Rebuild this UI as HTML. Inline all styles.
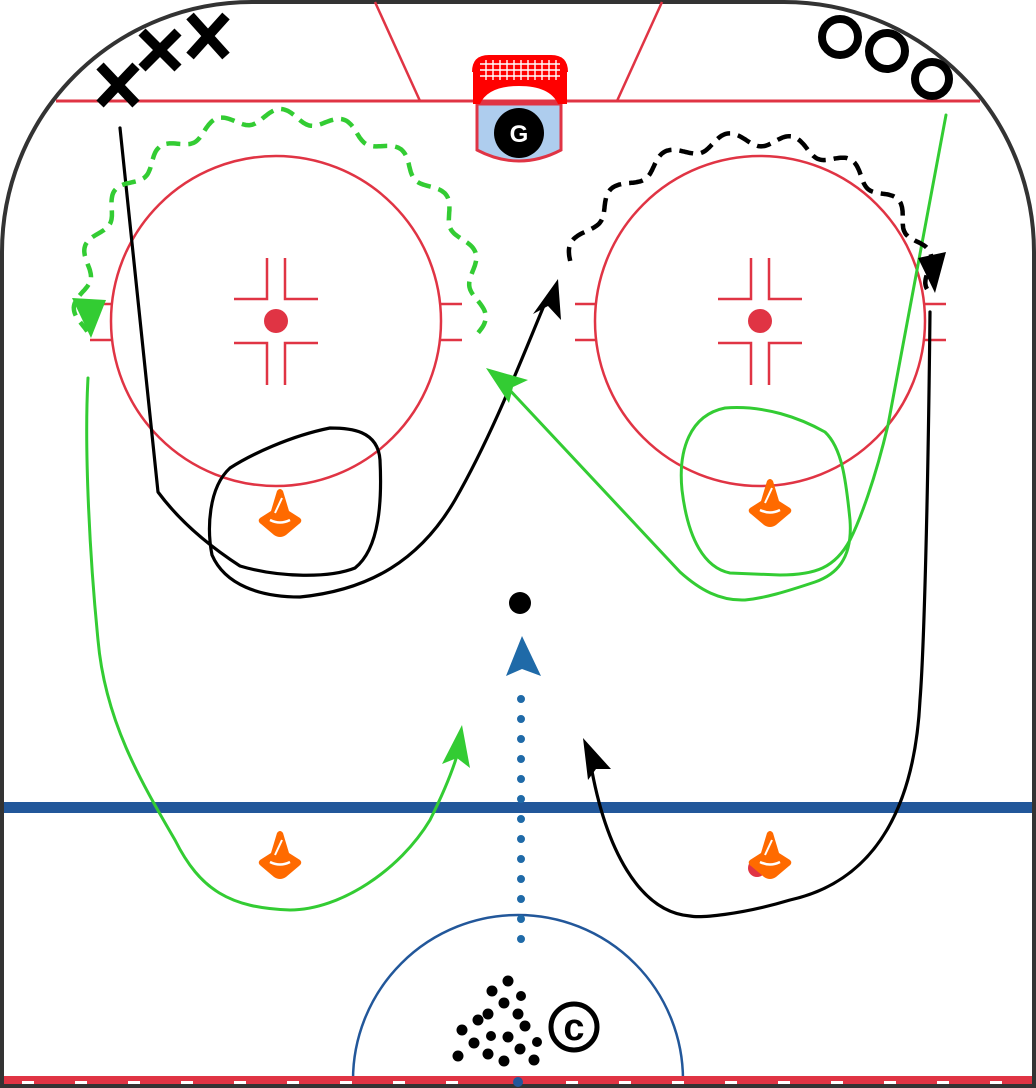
<!DOCTYPE html>
<html><head><meta charset="utf-8"><style>
html,body{margin:0;padding:0;background:#fff}
svg{display:block}
</style></head><body>
<svg id="s" width="1036" height="1088" viewBox="0 0 1036 1088" xmlns="http://www.w3.org/2000/svg">
<rect width="1036" height="1088" fill="#fff"/>
<path d="M2,1088 L2,252 A250,250 0 0 1 252,2 L784,2 A250,250 0 0 1 1034,252 L1034,1088" fill="none" stroke="#333" stroke-width="4"/>
<rect x="0" y="1084" width="1036" height="4" fill="#333"/>
<line x1="56" y1="101" x2="980" y2="101" stroke="#e03444" stroke-width="3"/>
<line x1="375" y1="2" x2="420" y2="101" stroke="#e03444" stroke-width="2.5"/>
<line x1="662" y1="2" x2="617" y2="101" stroke="#e03444" stroke-width="2.5"/>
<path d="M477,104 L477,150 Q519,172 561,150 L561,104 Z" fill="#aecdee" stroke="#e03444" stroke-width="3"/>
<path d="M473,104 L473,72 Q473,56 489,56 L551,56 Q567,56 567,72 L567,104 L558,104 Q550,86 519,86 Q488,86 480,104 Z" fill="#ff0000"/>
<g stroke="#fff" stroke-width="1.6">
<line x1="480" y1="64" x2="560" y2="64"/><line x1="480" y1="70" x2="560" y2="70"/><line x1="480" y1="76" x2="560" y2="76"/>
</g>
<g stroke="#fff" stroke-width="1.4">
<line x1="486" y1="60" x2="486" y2="80"/><line x1="493" y1="60" x2="493" y2="80"/><line x1="500" y1="60" x2="500" y2="80"/><line x1="507" y1="60" x2="507" y2="80"/><line x1="514" y1="60" x2="514" y2="80"/><line x1="521" y1="60" x2="521" y2="80"/><line x1="528" y1="60" x2="528" y2="80"/><line x1="535" y1="60" x2="535" y2="80"/><line x1="542" y1="60" x2="542" y2="80"/><line x1="549" y1="60" x2="549" y2="80"/><line x1="556" y1="60" x2="556" y2="80"/>
</g>
<path d="M473,72 Q473,56 489,56 L551,56 Q567,56 567,72" fill="none" stroke="#ff0000" stroke-width="2"/>
<circle cx="519" cy="133" r="25" fill="#000"/>
<text x="519" y="142" text-anchor="middle" font-family="Liberation Sans, sans-serif" font-weight="bold" font-size="24" fill="#fff">G</text>
<g fill="none" stroke="#e03444" stroke-width="2.5">
<circle cx="276" cy="321" r="165"/>
<circle cx="760" cy="321" r="165"/>
<path d="M90,304H111M90,340H111M441,304H462M441,340H462"/>
<path d="M575,304H595M575,340H595M925,304H946M925,340H946"/>
<path d="M267,258V299H234M285,258V299H318M267,385V343H234M285,385V343H318"/>
<path d="M751,258V299H718M769,258V299H802M751,385V343H718M769,385V343H802"/>
</g>
<circle cx="276" cy="321" r="12" fill="#e03444"/>
<circle cx="760" cy="321" r="12" fill="#e03444"/>
<rect x="4" y="802" width="1028" height="11" fill="#22579a"/>
<path d="M353,1080 A165,165 0 0 1 683,1080" fill="none" stroke="#22579a" stroke-width="2.5"/>
<rect x="4" y="1076" width="1028" height="8" fill="#e03444"/>
<g fill="#fff">
<rect x="22" y="1081" width="12" height="3"/><rect x="75" y="1081" width="12" height="3"/><rect x="128" y="1081" width="12" height="3"/><rect x="181" y="1081" width="12" height="3"/><rect x="234" y="1081" width="12" height="3"/><rect x="287" y="1081" width="12" height="3"/><rect x="340" y="1081" width="12" height="3"/><rect x="393" y="1081" width="12" height="3"/><rect x="446" y="1081" width="12" height="3"/><rect x="566" y="1081" width="12" height="3"/><rect x="619" y="1081" width="12" height="3"/><rect x="672" y="1081" width="12" height="3"/><rect x="725" y="1081" width="12" height="3"/><rect x="778" y="1081" width="12" height="3"/><rect x="831" y="1081" width="12" height="3"/><rect x="884" y="1081" width="12" height="3"/><rect x="937" y="1081" width="12" height="3"/><rect x="990" y="1081" width="12" height="3"/>
</g>
<circle cx="518" cy="1082" r="5" fill="#22579a"/>
<circle cx="757" cy="868" r="9" fill="#e03444"/>
<g id="cones" fill="#ff6a00"></g>
<circle cx="520" cy="603" r="11" fill="#000"/>
<line x1="521" y1="699" x2="521" y2="945" stroke="#1f6aa8" stroke-width="8" stroke-linecap="round" stroke-dasharray="0 20"/>
<path d="M522,636 L541,676 L522,669 L506,676 Z" fill="#1f6aa8"/>
<g fill="none" stroke="#000" stroke-width="3.2" stroke-linecap="round" stroke-linejoin="round">
<path d="M120,128 L158,492 C175,515 200,540 240,566 C280,578 330,578 355,568 C380,548 382,500 380,460 C378,430 350,428 330,428 C290,436 250,455 230,468 C208,488 207,530 212,555 C225,585 260,597 300,597 C370,590 420,560 455,500 C495,430 525,350 548,296"/>
<path d="M930,312 C928,500 924,650 920,700 C915,800 880,880 790,900 C740,915 700,918 690,916 C640,912 605,850 590,760"/>
</g>
<path d="M558,279 L561,320 L548,306 L533,314 Z" fill="#000"/>
<path d="M583,738 L611,769 L596,769 L588,780 Z" fill="#000"/>
<g fill="none" stroke="#33cc33" stroke-width="3" stroke-linecap="round" stroke-linejoin="round">
<path d="M88,378 C84,450 90,560 98,640 C105,720 140,780 175,840 C200,890 230,908 290,910 C340,910 400,870 430,820 C445,790 455,765 460,745"/>
<path d="M946,115 L888,425 C875,480 860,520 850,540 C835,568 815,575 780,575 L730,573 C705,568 688,540 682,490 C678,450 690,415 725,408 C765,405 800,418 825,432 C842,448 846,480 850,520 C853,560 835,575 815,582 C785,592 765,598 745,600 C720,601 700,590 680,572 L505,385"/>
</g>
<path d="M462,725 L470,768 L457,758 L442,764 Z" fill="#33cc33"/>
<path d="M486,368 L528,380 L513,387 L509,403 Z" fill="#33cc33"/>
<path id="gw" fill="none" stroke="#33cc33" stroke-width="4.5" stroke-dasharray="14 8"/>
<path d="M72,298 L106,300 L91,338 Z" fill="#33cc33"/>
<path id="bw" fill="none" stroke="#000" stroke-width="4.5" stroke-dasharray="14 8"/>
<path d="M918,258 L946,252 L935,293 Z" fill="#000"/>
<g stroke="#000" stroke-width="10" stroke-linecap="butt">
<path d="M100,66L136,104M136,66L100,104"/>
<path d="M142,32L178,68M178,32L142,68"/>
<path d="M190,16L226,56M226,16L190,56"/>
</g>
<g fill="none" stroke="#000" stroke-width="8">
<circle cx="840" cy="37" r="18"/>
<circle cx="887" cy="51" r="18"/>
<circle cx="932" cy="79" r="17"/>
</g>
<g fill="#000">
<circle cx="508" cy="981" r="5.5"/><circle cx="492" cy="991" r="5.5"/><circle cx="521" cy="996" r="5"/><circle cx="504" cy="1003" r="5.5"/><circle cx="488" cy="1014" r="5.5"/><circle cx="518" cy="1014" r="5.5"/><circle cx="478" cy="1020" r="5.5"/><circle cx="525" cy="1026" r="5.5"/><circle cx="462" cy="1030" r="5.5"/><circle cx="491" cy="1036" r="5"/><circle cx="508" cy="1037" r="5.5"/><circle cx="474" cy="1043" r="5.5"/><circle cx="537" cy="1042" r="5"/><circle cx="520" cy="1049" r="5.5"/><circle cx="458" cy="1056" r="5.5"/><circle cx="488" cy="1054" r="5.5"/><circle cx="504" cy="1061" r="5.5"/><circle cx="534" cy="1060" r="5.5"/>
</g>
<circle cx="574" cy="1027" r="23" fill="none" stroke="#000" stroke-width="5"/>
<text x="574" y="1040" text-anchor="middle" font-family="Liberation Sans, sans-serif" font-weight="bold" font-size="38" fill="#000">c</text>
</svg>
<script>
function wavy(cx,cy,r0,r1,a0,a1,amp,wl){
  var steps=400,d="";
  var len=Math.abs(a1-a0)*Math.PI/180*(r0+r1)/2;
  var n=len/wl;
  for(var i=0;i<=steps;i++){
    var t=i/steps,a=(a0+(a1-a0)*t)*Math.PI/180,r=r0+(r1-r0)*t+amp*Math.sin(t*n*2*Math.PI);
    var x=cx+r*Math.cos(a),y=cy+r*Math.sin(a);
    d+=(i?"L":"M")+x.toFixed(1)+","+y.toFixed(1);
  }
  return d;
}
document.getElementById("gw").setAttribute("d",wavy(276,315,203,195,5,-185,7,62));
document.getElementById("bw").setAttribute("d",wavy(760,330,202,178,-160,-12,7,62));
var cones=[[280,515],[280,857],[770,505],[770,857]],g=document.getElementById("cones"),h="";
cones.forEach(function(c){var x=c[0],y=c[1];
h+='<path d="M'+(x-3)+','+(y-24)+' Q'+x+','+(y-28)+' '+(x+3)+','+(y-24)+' L'+(x+9)+','+(y-4)+' L'+(x+20)+','+(y+3)+' Q'+(x+23)+','+(y+6)+' '+(x+19)+','+(y+9)+' L'+(x+6)+','+(y+20)+' Q'+x+','+(y+24)+' '+(x-6)+','+(y+20)+' L'+(x-19)+','+(y+9)+' Q'+(x-23)+','+(y+6)+' '+(x-20)+','+(y+3)+' L'+(x-9)+','+(y-4)+' Z"/>';
h+='<path d="M'+(x-10)+','+(y+5)+' Q'+x+','+(y+10)+' '+(x+10)+','+(y+5)+'" stroke="#fff" stroke-width="2.5" fill="none"/>';
h+='<path d="M'+(x+2)+','+(y-17)+' L'+(x-5)+','+(y-2)+'" stroke="#fff" stroke-width="2" fill="none"/>';});
g.innerHTML=h;
</script>
</body></html>
